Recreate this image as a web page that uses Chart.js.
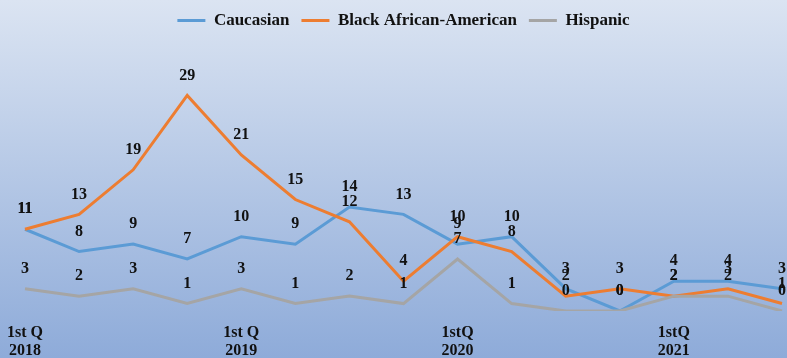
<!DOCTYPE html>
<html>
<head>
<meta charset="utf-8">
<script src="https://cdn.jsdelivr.net/npm/chart.js@4/dist/chart.umd.min.js"></script>
<style>
  html, body { margin: 0; padding: 0; }
  #wrap { width: 787px; height: 358px; }
</style>
</head>
<body>
<div id="wrap"><canvas id="raceChart"></canvas></div>
<script>
// quarterly counts, 2018 Q1 .. 2021 Q3
const quarters = [
    ['1st Q', '2018'], '', '', '',
    ['1st Q', '2019'], '', '', '',
    ['1stQ', '2020'], '', '', '',
    ['1stQ', '2021'], '', ''
]
const caucasian = [11, 8, 9, 7, 10, 9, 14, 13, 9, 10, 3, 0, 4, 4, 3]
const blackAfricanAmerican = [11, 13, 19, 29, 21, 15, 12, 4, 10, 8, 2, 3, 2, 3, 1]
const hispanic = [3, 2, 3, 1, 3, 1, 2, 1, 7, 1, 0, 0, 2, 2, 0]

const serif = '"Liberation Serif", "Times New Roman", serif'

// blue gradient behind the whole canvas
const bgPlugin = {
    id: 'bgGradient',
    beforeDraw(chart) {
        const ctx = chart.ctx
        const g = ctx.createLinearGradient(0, 0, 0, chart.height)
        g.addColorStop(0, '#dbe4f2')
        g.addColorStop(1, '#8eabd9')
        ctx.save()
        ctx.fillStyle = g
        ctx.fillRect(0, 0, chart.width, chart.height)
        ctx.restore()
    }
}

// value written above every point
const valueLabels = {
    id: 'valueLabels',
    afterDatasetsDraw(chart) {
        const ctx = chart.ctx
        ctx.save()
        ctx.font = 'bold 16px ' + serif
        ctx.fillStyle = '#111'
        ctx.textAlign = 'center'
        ctx.textBaseline = 'middle'
        chart.data.datasets.forEach((ds, i) => {
            chart.getDatasetMeta(i).data.forEach((pt, j) => {
                ctx.fillText(ds.data[j], pt.x, pt.y - 20)
            })
        })
        ctx.restore()
    }
}

const lineSet = (label, data, color, order) => ({
    label: label,
    data: data,
    borderColor: color,
    backgroundColor: color,
    borderWidth: 3,
    pointRadius: 0,
    tension: 0,
    order: order
})

new Chart(document.getElementById('raceChart'), {
    type: 'line',
    data: {
        labels: quarters,
        datasets: [
            lineSet('Caucasian', caucasian, '#5b9bd5', 3),
            lineSet('Black African-American', blackAfricanAmerican, '#ed7d31', 2),
            lineSet('Hispanic', hispanic, '#a5a5a5', 1)
        ]
    },
    options: {
        responsive: true,
        maintainAspectRatio: false,
        animation: false,
        layout: {
            padding: { left: 25, right: 5, top: 0, bottom: 0 }
        },
        scales: {
            x: {
                offset: false,
                grid: { display: false, drawTicks: false },
                border: { display: false },
                ticks: {
                    autoSkip: false,
                    maxRotation: 0,
                    padding: 13,
                    color: '#111',
                    font: { family: serif, size: 16, weight: 'bold', lineHeight: 1.1 }
                },
                afterFit(scale) {
                    // fixed band for the two-line year labels
                    scale.height = 47
                    scale.paddingLeft = 0
                    scale.paddingRight = 0
                }
            },
            y: {
                display: false,
                min: 0,
                max: 36.6
            }
        },
        plugins: {
            legend: {
                display: true,
                position: 'top',
                labels: {
                    usePointStyle: true,
                    pointStyle: 'line',
                    pointStyleWidth: 28,
                    color: '#111',
                    padding: 12,
                    font: { family: serif, size: 17, weight: 'bold' },
                    sort: (a, b) => a.datasetIndex - b.datasetIndex
                }
            },
            tooltip: { enabled: false }
        }
    },
    plugins: [bgPlugin, valueLabels]
})
</script>
</body>
</html>
